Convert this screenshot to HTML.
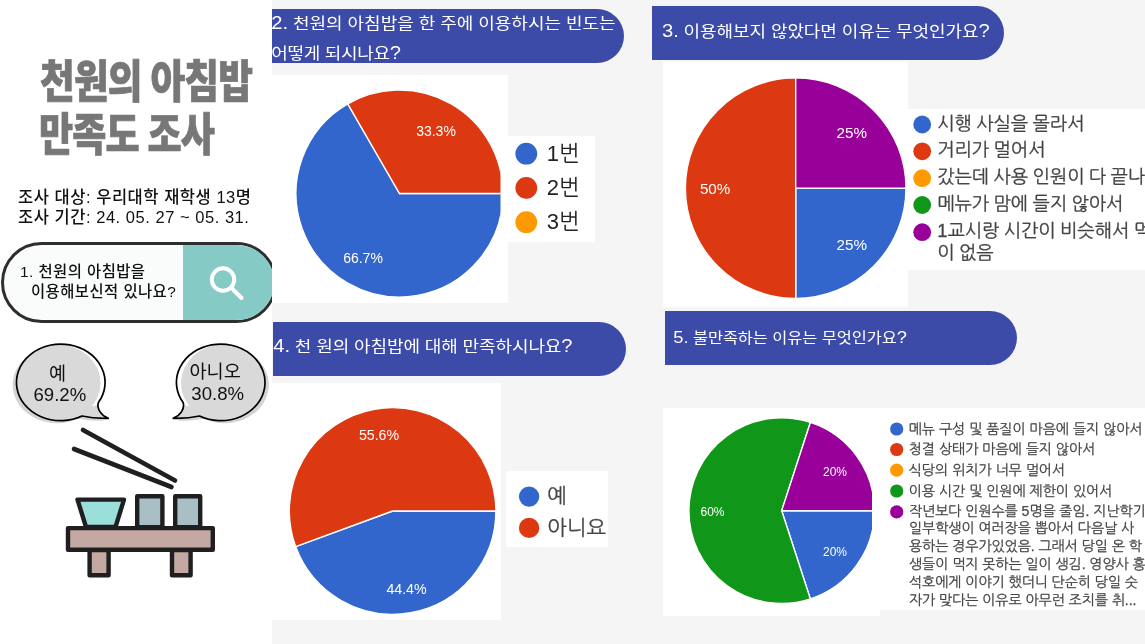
<!DOCTYPE html>
<html lang="ko">
<head>
<meta charset="utf-8">
<title>천원의 아침밥 만족도 조사</title>
<style>
*{margin:0;padding:0;box-sizing:border-box}
html,body{width:1145px;height:644px;overflow:hidden;background:#fff}
body{position:relative;font-family:"Liberation Sans","Noto Sans CJK KR",sans-serif;color:#111}
.abs{position:absolute}
#right{left:272px;top:0;width:873px;height:644px;background:#f5f5f5}
.wb{position:absolute;background:#fff}
.ban{position:absolute;background:#3c4ba8;color:#fff;font-family:"Liberation Sans","Noto Sans CJK KR",sans-serif;white-space:nowrap;font-size:18px;line-height:27px;border-radius:0 27px 27px 0}
.ban .t{position:absolute;display:block;line-height:30px;transform:scaleY(0.89);transform-origin:0 50%}
.ban .n{font-size:1.12em;line-height:1px}
.title{position:absolute;left:40px;font-family:"Liberation Sans","Noto Sans CJK KR",sans-serif;font-weight:900;color:#777;-webkit-text-stroke:0.7px #777;font-size:45.5px;line-height:48px;white-space:nowrap;transform-origin:0 0;transform:scaleX(0.83);letter-spacing:-1px;word-spacing:-1.200px}
.sub{position:absolute;left:18px;font-family:"Liberation Sans","Noto Sans CJK KR",sans-serif;font-weight:500;font-size:16.5px;line-height:20.5px;letter-spacing:0.53px;white-space:nowrap;color:#111}
#pill{position:absolute;left:1px;top:12px;width:276px;height:81px;border:3px solid #2e2e2e;border-radius:41px;background:#fafcfb;overflow:hidden}
#pill .teal{position:absolute;left:179px;top:0;width:100px;height:80px;background:#85cac5}
#pill .q{position:absolute;left:16px;top:17px;font-weight:500;font-size:15.4px;line-height:19.8px;letter-spacing:0.45px;white-space:nowrap;color:#111}
.bub{position:absolute;text-align:center;font-size:18.600px;line-height:23.500px;color:#111;white-space:nowrap}
.lg{position:absolute;font-family:"Liberation Sans","NanumGothic",sans-serif;color:#444;white-space:nowrap}
svg{position:absolute;left:0;top:0}
svg text{font-family:"Liberation Sans",sans-serif;fill:#fff}
</style>
</head>
<body>
<div id="right" class="abs"></div>

<!-- white chart boxes -->
<div class="wb" style="left:272px;top:75px;width:236px;height:228px"></div>
<div class="wb" style="left:508px;top:136px;width:87px;height:106px"></div>
<div class="wb" style="left:663px;top:62px;width:245px;height:245px"></div>
<div class="wb" style="left:908px;top:109px;width:237px;height:161px"></div>
<div class="wb" style="left:272px;top:383px;width:229px;height:237px"></div>
<div class="wb" style="left:506px;top:471px;width:102px;height:76px"></div>
<div class="wb" style="left:663px;top:408px;width:217px;height:208px"></div>
<div class="wb" style="left:872px;top:408px;width:273px;height:202px"></div>

<!-- left panel -->
<div class="title" style="top:59.300px;left:39.500px">천원의 아침밥</div>
<div class="title" style="top:112.100px;left:39px;transform:scaleX(0.815)">만족도 조사</div>
<div class="sub" style="top:186.800px">조사 대상: 우리대학 재학생 13명<br>조사 기간: 24. 05. 27 ~ 05. 31.</div>

<div class="abs" style="left:0;top:230px;width:272px;height:110px;overflow:hidden"><div id="pill">
  <div class="teal"></div>
  <div class="q">1. 천원의 아침밥을<br><span style="padding-left:11px">이용해보신적 있나요?</span></div>
</div></div>

<!-- banners -->
<div class="ban" style="left:272px;top:9px;width:352px;height:54px"><span class="t" style="left:-0.800px;top:-0.400px;letter-spacing:-0.020px"><span class="n">2.</span> 천원의 아침밥을 한 주에 이용하시는 빈도는</span><span class="t" style="left:-0.800px;top:29.600px;letter-spacing:-0.300px">어떻게 되시나요<span class="n">?</span></span></div>
<div class="ban" style="left:652px;top:6px;width:352px;height:54px"><span class="t" style="left:10px;top:10.600px;letter-spacing:-0.080px"><span class="n">3.</span> 이용해보지 않았다면 이유는 무엇인가요<span class="n">?</span></span></div>
<div class="ban" style="left:273px;top:322px;width:353px;height:54px"><span class="t" style="left:0.300px;top:9.800px;letter-spacing:-0.100px"><span class="n">4.</span> 천 원의 아침밥에 대해 만족하시나요<span class="n">?</span></span></div>
<div class="ban" style="left:665px;top:311px;width:352px;height:54px;font-size:16.400px"><span class="t" style="left:8.300px;top:12.300px;letter-spacing:-0.090px"><span class="n">5.</span> 불만족하는 이유는 무엇인가요<span class="n">?</span></span></div>

<svg width="1145" height="644" viewBox="0 0 1145 644">
<defs><clipPath id="c2"><rect x="272" y="75" width="228.500" height="228"/></clipPath><clipPath id="c5"><rect x="663" y="408" width="209" height="208"/></clipPath></defs>
<!-- pie2 -->
<g clip-path="url(#c2)">
<path d="M399.5,193.5L503.00,193.50A103.5,103.5 0 1 1 347.75,103.87Z" fill="#3366cc" stroke="#fff" stroke-width="1.400"/>
<path d="M399.5,193.5L347.75,103.87A103.5,103.5 0 0 1 503.00,193.50Z" fill="#dc3912" stroke="#fff" stroke-width="1.400"/>
</g>
<text x="436" y="136" font-size="14" text-anchor="middle">33.3%</text>
<text x="363" y="262.500" font-size="14" text-anchor="middle">66.7%</text>
<circle cx="526.3" cy="153.7" r="10.9" fill="#3366cc"/>
<circle cx="526.3" cy="187.9" r="10.9" fill="#dc3912"/>
<circle cx="526.3" cy="222.2" r="10.9" fill="#ff9900"/>
<!-- pie3 -->
<path d="M795.7,188.2L906.00,188.20A110.3,110.3 0 0 1 795.70,298.50Z" fill="#3366cc" stroke="#fff" stroke-width="1.400"/>
<path d="M795.7,188.2L795.70,298.50A110.3,110.3 0 0 1 795.70,77.90Z" fill="#dc3912" stroke="#fff" stroke-width="1.400"/>
<path d="M795.7,188.2L795.70,77.90A110.3,110.3 0 0 1 906.00,188.20Z" fill="#990099" stroke="#fff" stroke-width="1.400"/>
<text x="851.8" y="137.700" font-size="15.200" text-anchor="middle">25%</text>
<text x="851.8" y="250.400" font-size="15.200" text-anchor="middle">25%</text>
<text x="715.1" y="194.200" font-size="15.200" text-anchor="middle">50%</text>
<circle cx="922.2" cy="124.500" r="8.900" fill="#3366cc"/>
<circle cx="922.2" cy="151.300" r="8.900" fill="#dc3912"/>
<circle cx="922.2" cy="178.200" r="8.900" fill="#ff9900"/>
<circle cx="922.2" cy="205" r="8.900" fill="#109618"/>
<circle cx="922.2" cy="232.200" r="8.900" fill="#990099"/>
<!-- pie4 -->
<path d="M392.6,511L495.90,511.00A103.3,103.3 0 0 1 295.63,546.60Z" fill="#3366cc" stroke="#fff" stroke-width="1.400"/>
<path d="M392.6,511L295.63,546.60A103.3,103.3 0 1 1 495.90,511.00Z" fill="#dc3912" stroke="#fff" stroke-width="1.400"/>
<text x="379" y="440.200" font-size="14.200" text-anchor="middle">55.6%</text>
<text x="406.5" y="593.800" font-size="14.200" text-anchor="middle">44.4%</text>
<circle cx="529.1" cy="496.600" r="10.200" fill="#3366cc"/>
<circle cx="529.1" cy="527.900" r="10.200" fill="#dc3912"/>
<!-- pie5 -->
<g clip-path="url(#c5)">
<path d="M781.7,510.7L874.50,510.70A92.8,92.8 0 0 1 810.38,598.96Z" fill="#3366cc" stroke="#fff" stroke-width="1.400"/>
<path d="M781.7,510.7L810.38,598.96A92.8,92.8 0 1 1 810.38,422.44Z" fill="#109618" stroke="#fff" stroke-width="1.400"/>
<path d="M781.7,510.7L810.38,422.44A92.8,92.8 0 0 1 874.50,510.70Z" fill="#990099" stroke="#fff" stroke-width="1.400"/>
</g>
<text x="835" y="475.500" font-size="12" text-anchor="middle">20%</text>
<text x="835" y="555.500" font-size="12" text-anchor="middle">20%</text>
<text x="712.5" y="515.500" font-size="12" text-anchor="middle">60%</text>
<circle cx="896.7" cy="429" r="6.600" fill="#3366cc"/>
<circle cx="896.7" cy="449.500" r="6.600" fill="#dc3912"/>
<circle cx="896.7" cy="470.200" r="6.600" fill="#ff9900"/>
<circle cx="896.7" cy="491" r="6.600" fill="#109618"/>
<circle cx="896.7" cy="511.900" r="6.600" fill="#990099"/>
</svg>

<!-- legends -->
<div class="lg" style="left:546.700px;top:137px;font-size:22px;line-height:34.2px;color:#222">1번<br>2번<br>3번</div>
<div class="lg" style="left:937.300px;top:110.500px;font-size:18.400px;word-spacing:-0.700px;line-height:26.900px;width:208px;overflow:hidden;-webkit-text-stroke:0.300px #444">시행 사실을 몰라서<br>거리가 멀어서<br>갔는데 사용 인원이 다 끝나서<br>메뉴가 맘에 들지 않아서<br>1교시랑 시간이 비슷해서 먹을 시간</div>
<div class="lg" style="left:937.300px;top:239.500px;font-size:18.400px;word-spacing:-0.700px;line-height:26.900px;-webkit-text-stroke:0.300px #444">이 없음</div>
<div class="lg" style="left:547.300px;top:480.300px;font-size:20.800px;line-height:31.300px;-webkit-text-stroke:0.250px #444">예<br>아니요</div>
<div class="lg" style="left:908.700px;top:418.500px;font-size:14px;line-height:20.800px;width:236.300px;overflow:hidden;-webkit-text-stroke:0.250px #444">메뉴 구성 및 품질이 마음에 들지 않아서<br>청결 상태가 마음에 들지 않아서<br>식당의 위치가 너무 멀어서<br>이용 시간 및 인원에 제한이 있어서</div>
<div class="lg" style="left:909px;top:502.600px;font-size:14px;letter-spacing:-0.050px;line-height:17.800px;width:236px;overflow:hidden;-webkit-text-stroke:0.250px #444">작년보다 인원수를 5명을 줄임. 지난학기<br>일부학생이 여러장을 뽑아서 다음날 사<br>용하는 경우가있었음. 그래서 당일 온 학<br>생들이 먹지 못하는 일이 생김. 영양사 홍<br>석호에게 이야기 했더니 단순히 당일 숫<br>자가 맞다는 이유로 아무런 조치를 취...</div>

<!-- left icons -->
<svg width="272" height="644" viewBox="0 0 272 644" style="overflow:hidden">
<!-- search icon -->
<circle cx="223" cy="279.500" r="11.200" fill="none" stroke="#fff" stroke-width="4"/>
<line x1="231.500" y1="288" x2="241.500" y2="298" stroke="#fff" stroke-width="4" stroke-linecap="round"/>
<!-- bubbles -->
<defs>
<path id="bub" d="M98.400,402.600 C96.500,408.500 101,415.500 108.300,418.300 C99,418.600 90,417.800 82,416 A44.300,38.300 0 1 1 98.400,402.600Z"/>
<clipPath id="bubc"><use href="#bub"/></clipPath>
</defs>
<g id="bubL">
<use href="#bub" transform="translate(-3.800,2.500)" fill="#d4d4d4"/>
<use href="#bub" fill="#fff"/>
<g clip-path="url(#bubc)"><ellipse cx="56.300" cy="383" rx="44.300" ry="39" fill="#d9d9d9"/><path d="M70,410 L100,405 L112,422 L70,422Z" fill="#d9d9d9"/></g>
<use href="#bub" fill="none" stroke="#000" stroke-width="1.700" stroke-linejoin="round"/>
</g>
<use href="#bubL" transform="translate(281.500,0) scale(-1,1)"/>
<!-- chopsticks -->
<line x1="83" y1="430" x2="175" y2="480.500" stroke="#1f1f1f" stroke-width="4.600" stroke-linecap="round"/>
<line x1="74" y1="449" x2="171.500" y2="487" stroke="#1f1f1f" stroke-width="4.600" stroke-linecap="round"/>
<!-- table -->
<g stroke="#1f1f1f" stroke-width="4.400" stroke-linejoin="round">
<rect x="89.600" y="550" width="19" height="25.200" fill="#c4a9a3"/>
<rect x="172" y="550" width="18.600" height="25.200" fill="#c4a9a3"/>
<polygon points="77.500,499.600 124,499.600 115.500,527 86,527" fill="#9adfda"/>
<rect x="137.200" y="496.200" width="25.200" height="31" fill="#a9bfc6"/>
<rect x="175.200" y="496.200" width="25" height="31" fill="#a9bfc6"/>
<rect x="68" y="528.100" width="144.800" height="21.700" fill="#c4a9a3"/>
</g>
</svg>
<div class="bub" style="left:49px;top:361.800px">예</div>
<div class="bub" style="left:33.500px;top:383.300px">69.2%</div>
<div class="bub" style="left:189.500px;top:360.200px">아니오</div>
<div class="bub" style="left:191.300px;top:381.900px">30.8%</div>
</body>
</html>
